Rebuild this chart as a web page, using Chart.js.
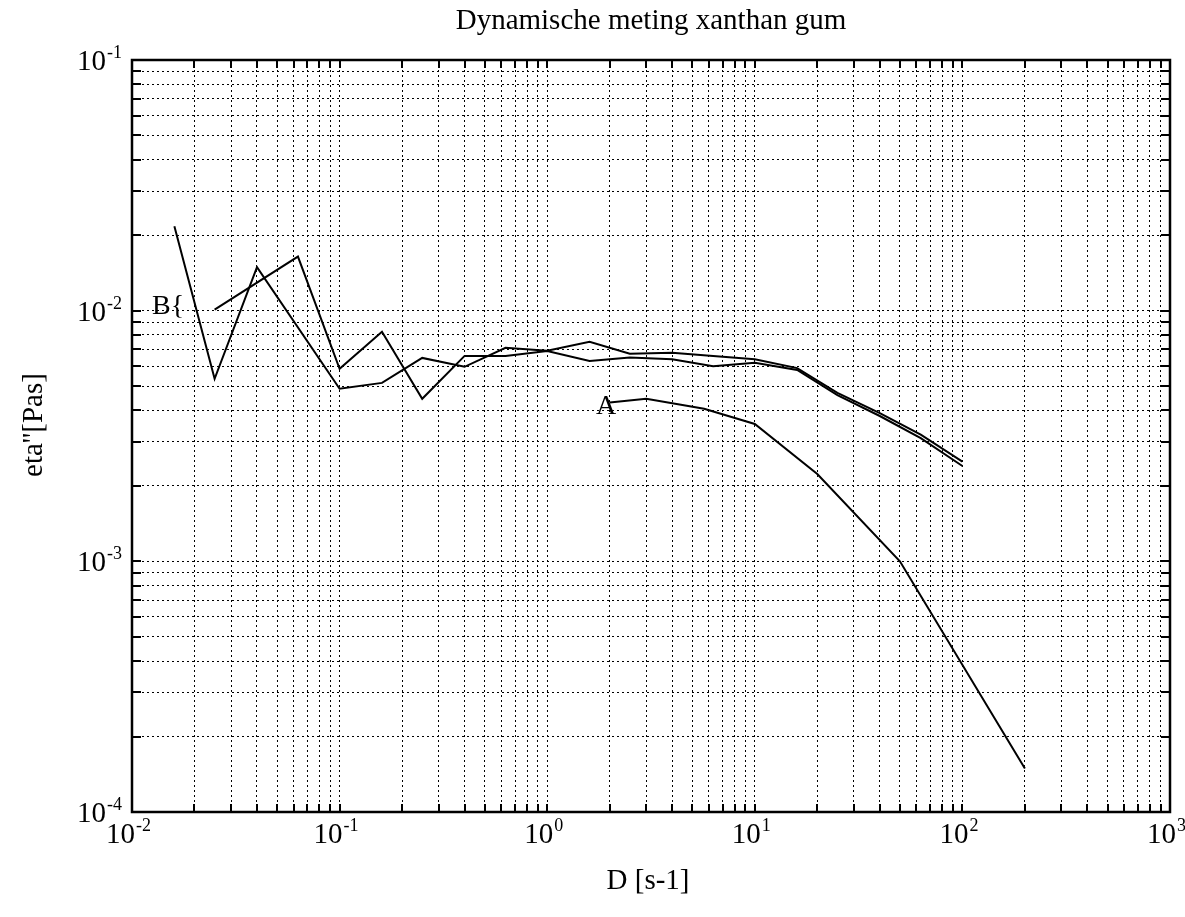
<!DOCTYPE html>
<html>
<head>
<meta charset="utf-8">
<script src="https://cdn.jsdelivr.net/npm/chart.js@4.4.0/dist/chart.umd.min.js"></script>
<style>
  html, body { margin: 0; padding: 0; background: #fff; }
</style>
</head>
<body>
<canvas id="chart" width="1185" height="917"></canvas>
<script>
// shear rate D [1/s] and eta'' [Pas]
const bOneShear = [0.016, 0.025, 0.04, 0.1, 0.16, 0.25, 0.4, 0.63, 1.0, 1.6, 2.5, 4, 6.3, 10, 16, 25, 40, 63, 100];
const bOneEta = [0.0217, 0.00535, 0.0149, 0.00488, 0.00515, 0.00648, 0.00597, 0.00711, 0.00692, 0.00752, 0.00673, 0.00679, 0.0066, 0.0064, 0.0059, 0.0047, 0.0039, 0.0032, 0.0025];

const bTwoShear = [0.025, 0.063, 0.1, 0.16, 0.25, 0.4, 0.63, 1.0, 1.6, 2.5, 4, 6.3, 10, 16, 25, 40, 63, 100];
const bTwoEta = [0.0101, 0.01644, 0.00586, 0.00824, 0.00445, 0.0066, 0.0066, 0.0069, 0.0063, 0.0065, 0.0064, 0.006, 0.0062, 0.0058, 0.0046, 0.0038, 0.0031, 0.0024];

const aShear = [2, 3, 5.7, 10, 20, 50, 200];
const aEta = [0.0043, 0.00445, 0.00406, 0.00353, 0.00223, 0.001, 0.000149];

const xDecades = [-2, -1, 0, 1, 2, 3];
const yDecades = [-4, -3, -2, -1];

const titleText = 'Dynamische meting xanthan gum';
const xTitle = 'D [s-1]';
const yTitle = 'eta\'\'[Pas]';

function toPoints(xs, ys) {
    return xs.map((x, i) => ({ x: x, y: ys[i] }));
}

function logTicks(decades) {
    const ticks = [];
    for (let i = 0; i < decades.length; i++) {
        const base = Math.pow(10, decades[i]);
        if (i === decades.length - 1) {
            ticks.push({ value: base, major: true });
            break;
        }
        for (let m = 1; m <= 9; m++) {
            ticks.push({ value: m * base, major: m === 1 });
        }
    }
    return ticks;
}

const serif = '"Liberation Serif", "DejaVu Serif", serif';

function drawPower(ctx, exp, x, y, align) {
    ctx.font = '29px ' + serif;
    const w1 = ctx.measureText('10').width;
    ctx.font = '18px ' + serif;
    const w2 = ctx.measureText(String(exp)).width;
    let left = x;
    if (align === 'center') left = x - (w1 + w2) / 2;
    if (align === 'right') left = x - (w1 + w2);
    ctx.textAlign = 'left';
    ctx.textBaseline = 'alphabetic';
    ctx.font = '29px ' + serif;
    ctx.fillText('10', left, y);
    ctx.font = '18px ' + serif;
    ctx.fillText(String(exp), left + w1 + 1, y - 12);
}

const framePlugin = {
    id: 'frame',
    afterDraw(chart) {
        const ctx = chart.ctx;
        const area = chart.chartArea;
        const xs = chart.scales.x;
        const ys = chart.scales.y;
        ctx.save();
        ctx.fillStyle = '#000';
        ctx.strokeStyle = '#000';

        // inward tick marks on all four sides
        ctx.lineWidth = 2;
        ctx.beginPath();
        xs.ticks.forEach(t => {
            const px = Math.round(xs.getPixelForValue(t.value));
            ctx.moveTo(px, area.bottom); ctx.lineTo(px, area.bottom - 8);
            ctx.moveTo(px, area.top); ctx.lineTo(px, area.top + 8);
        });
        ys.ticks.forEach(t => {
            const py = Math.round(ys.getPixelForValue(t.value));
            ctx.moveTo(area.left, py); ctx.lineTo(area.left + 9, py);
            ctx.moveTo(area.right, py); ctx.lineTo(area.right - 9, py);
        });
        ctx.stroke();

        ctx.lineWidth = 2.5;
        ctx.strokeRect(area.left, area.top, area.right - area.left, area.bottom - area.top);

        // tick labels
        xDecades.forEach(d => {
            drawPower(ctx, d, xs.getPixelForValue(Math.pow(10, d)) - 4, 843, 'center');
        });
        yDecades.forEach(d => {
            drawPower(ctx, d, 121, ys.getPixelForValue(Math.pow(10, d)) + 10, 'right');
        });

        // titles
        ctx.textAlign = 'center';
        ctx.textBaseline = 'alphabetic';
        ctx.font = '29px ' + serif;
        ctx.fillText(titleText, 651, 29);
        ctx.fillText(xTitle, 648, 889);
        ctx.save();
        ctx.translate(42, 425);
        ctx.rotate(-Math.PI / 2);
        ctx.fillText(yTitle, 0, 0);
        ctx.restore();

        // curve labels
        ctx.font = '28px ' + serif;
        ctx.textAlign = 'left';
        ctx.fillText('B{', xs.getPixelForValue(0.0125), ys.getPixelForValue(0.0097));
        ctx.fillText('A', xs.getPixelForValue(1.72), ys.getPixelForValue(0.00387));
        ctx.restore();
    }
};

const lineStyle = {
    borderColor: '#000',
    borderWidth: 2,
    pointRadius: 0,
    showLine: true,
    tension: 0,
    fill: false
};

new Chart(document.getElementById('chart'), {
    type: 'scatter',
    data: {
        datasets: [
            Object.assign({ label: 'B1', data: toPoints(bOneShear, bOneEta) }, lineStyle),
            Object.assign({ label: 'B2', data: toPoints(bTwoShear, bTwoEta) }, lineStyle),
            Object.assign({ label: 'A', data: toPoints(aShear, aEta) }, lineStyle)
        ]
    },
    options: {
        responsive: false,
        animation: false,
        layout: { padding: { left: 132, right: 15, top: 60, bottom: 105 } },
        plugins: {
            legend: { display: false },
            tooltip: { enabled: false },
            title: { display: false }
        },
        scales: {
            x: {
                type: 'logarithmic',
                min: 0.01,
                max: 1000,
                afterBuildTicks: s => { s.ticks = logTicks(xDecades); },
                ticks: { display: false },
                grid: { color: '#000', lineWidth: 1, drawTicks: false },
                border: { display: false, dash: [2, 3] }
            },
            y: {
                type: 'logarithmic',
                min: 0.0001,
                max: 0.1,
                afterBuildTicks: s => { s.ticks = logTicks(yDecades); },
                ticks: { display: false },
                grid: { color: '#000', lineWidth: 1, drawTicks: false },
                border: { display: false, dash: [2, 3] }
            }
        }
    },
    plugins: [framePlugin]
});
</script>
</body>
</html>
